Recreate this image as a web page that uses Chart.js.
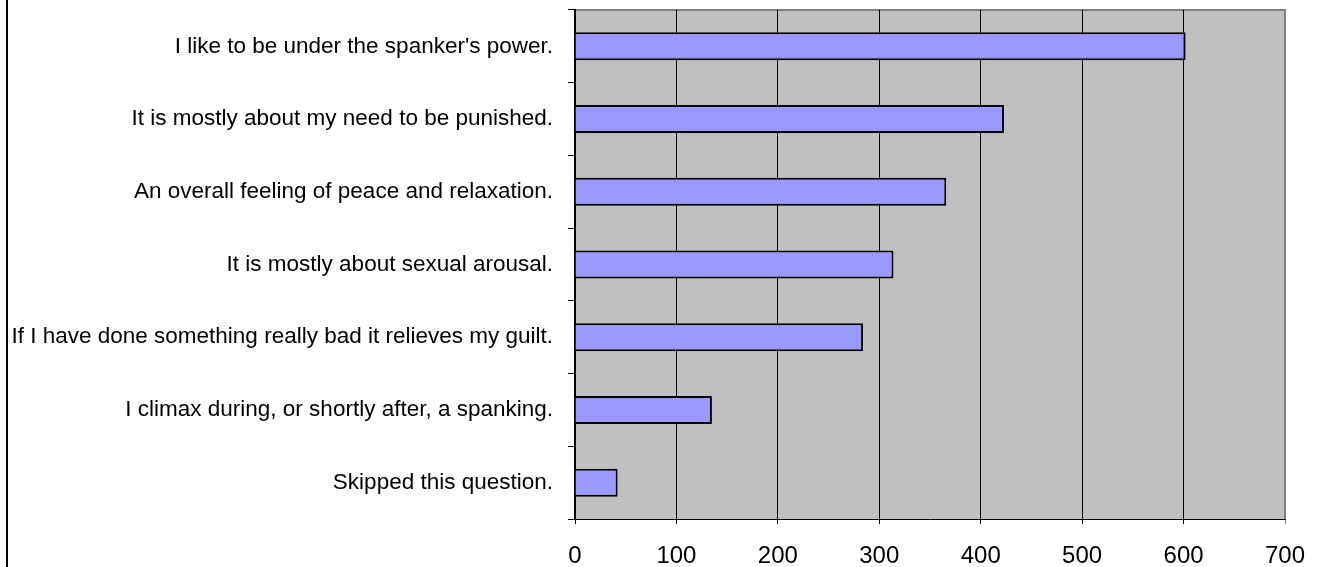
<!DOCTYPE html>
<html>
<head>
<meta charset="utf-8">
<script src="https://cdn.jsdelivr.net/npm/chart.js@4/dist/chart.umd.min.js"></script>
<style>
  html, body { margin: 0; padding: 0; background: #ffffff; }
  #wrap { position: relative; width: 1319px; height: 567px; }
  #frame { position: absolute; left: 6px; top: 0; width: 2px; height: 567px; background: #000; }
</style>
</head>
<body>
<div id="wrap">
  <canvas id="c" width="1319" height="567"></canvas>
  <div id="frame"></div>
</div>
<script>
const categories = [
  "I like to be under the spanker's power.",
  "It is mostly about my need to be punished.",
  "An overall feeling of peace and relaxation.",
  "It is mostly about sexual arousal.",
  "If I have done something really bad it relieves my guilt.",
  "I climax during, or shortly after, a spanking.",
  "Skipped this question."
];
const responses = [602, 423, 366, 314, 284, 135, 42];
const xTickValues = [0, 100, 200, 300, 400, 500, 600, 700];

const plotBg = {
  id: 'plotBg',
  beforeDraw(chart) {
    const { ctx, chartArea: a } = chart;
    ctx.save();
    ctx.fillStyle = '#C0C0C0';
    ctx.fillRect(a.left, a.top, a.right - a.left, a.bottom - a.top);
    ctx.strokeStyle = '#808080';
    ctx.lineWidth = 2;
    ctx.beginPath();
    ctx.moveTo(a.left, a.top);
    ctx.lineTo(a.right, a.top);
    ctx.lineTo(a.right, a.bottom);
    ctx.stroke();
    ctx.restore();
  }
};

new Chart(document.getElementById('c'), {
  type: 'bar',
  data: {
    labels: categories,
    datasets: [{
      data: responses,
      backgroundColor: '#9999FF',
      borderColor: '#000000',
      borderWidth: 2,
      categoryPercentage: 1,
      barPercentage: 0.385
    }]
  },
  options: {
    indexAxis: 'y',
    responsive: false,
    animation: false,
    layout: { padding: { top: 10, right: 34, left: 0, bottom: 0 } },
    plugins: { legend: { display: false }, tooltip: { enabled: false } },
    scales: {
      x: {
        min: 0, max: 700,
        afterFit(s) { s.height = 48; s.paddingLeft = 0; s.paddingRight = 0; },
        afterBuildTicks(s) { s.ticks = xTickValues.map(v => ({ value: v })); },
        border: { display: true, color: '#000', width: 1 },
        grid: {
          color: (c) => c.index === xTickValues.length - 1 ? '#808080' : '#000000',
          lineWidth: 1,
          tickLength: 5,
          drawTicks: true
        },
        ticks: {
          color: '#000',
          padding: 18,
          maxRotation: 0,
          font: { family: '"Liberation Sans", Arial, sans-serif', size: 24 }
        }
      },
      y: {
        afterFit(s) { s.width = 575; s.paddingTop = 0; s.paddingBottom = 0; },
        border: { display: true, color: '#000', width: 2 },
        grid: {
          drawOnChartArea: false,
          color: '#000',
          tickLength: 7,
          offset: true
        },
        ticks: {
          color: '#000',
          padding: 15,
          autoSkip: false,
          font: { family: '"Liberation Sans", Arial, sans-serif', size: 22.5 }
        }
      }
    }
  },
  plugins: [plotBg]
});
</script>
</body>
</html>
